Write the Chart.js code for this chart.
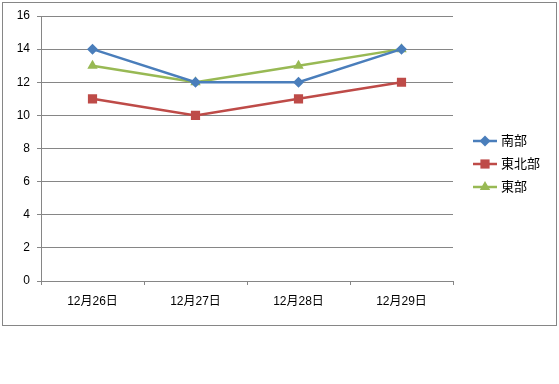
<!DOCTYPE html>
<html>
<head>
<meta charset="utf-8">
<script src="https://cdn.jsdelivr.net/npm/chart.js@4"></script>
<style>
  html, body { margin: 0; padding: 0; background: #fff; }
  #wrap { width: 559px; height: 384px; }
</style>
</head>
<body>
<div id="wrap"><canvas id="chart" width="559" height="384"></canvas></div>
<script>
// ---- data ----
const categories = ['12月26日', '12月27日', '12月28日', '12月29日'];
const seriesNames = ['南部', '東北部', '東部'];
const southValues = [14, 12, 12, 14];
const northeastValues = [11, 10, 11, 12];
const eastValues = [13, 12, 13, 14];
const yTicks = [0, 2, 4, 6, 8, 10, 12, 14, 16];

const colors = ['#4A7EBB', '#BE4B48', '#98B954'];
const markers = ['rectRot', 'rect', 'triangle'];
const markerSizes = [5.5, 6.5, 6];
const gridColor = '#868686';
const fontFamily = '"Liberation Sans", "Noto Sans CJK JP", sans-serif';

// frame around the whole chart, like the Excel chart border
const framePlugin = {
    id: 'frame',
    beforeDraw(chart) {
        const ctx = chart.ctx;
        ctx.save();
        ctx.fillStyle = '#ffffff';
        ctx.fillRect(0, 0, chart.width, chart.height);
        ctx.strokeStyle = gridColor;
        ctx.lineWidth = 1;
        ctx.strokeRect(2.5, 2.5, 554, 323);
        ctx.restore();
    }
};

// legend with a short line and the marker in the middle
const lineLegend = {
    id: 'lineLegend',
    afterDraw(chart) {
        const ctx = chart.ctx;
        const x0 = 473, x1 = 497, yStart = 141, step = 23;
        ctx.save();
        chart.data.datasets.forEach((ds, i) => {
            const y = yStart + i * step;
            ctx.strokeStyle = ds.borderColor;
            ctx.lineWidth = 2.5;
            ctx.beginPath();
            ctx.moveTo(x0, y);
            ctx.lineTo(x1, y);
            ctx.stroke();
            ctx.fillStyle = ds.backgroundColor;
            ctx.strokeStyle = ds.borderColor;
            ctx.lineWidth = 0;
            Chart.helpers.drawPoint(ctx, {
                pointStyle: ds.pointStyle,
                radius: ds.pointRadius,
                rotation: 0,
                borderWidth: 0
            }, (x0 + x1) / 2, y);
            ctx.fillStyle = '#000';
            ctx.font = '13px ' + fontFamily;
            ctx.textBaseline = 'middle';
            ctx.textAlign = 'left';
            ctx.fillText(ds.label, x1 + 4, y);
        });
        ctx.restore();
    }
};

const allValues = [southValues, northeastValues, eastValues];

const ctx = document.getElementById('chart').getContext('2d');
new Chart(ctx, {
    type: 'line',
    data: {
        labels: categories,
        datasets: seriesNames.map((name, i) => ({
            label: name,
            data: allValues[i],
            borderColor: colors[i],
            backgroundColor: colors[i],
            pointStyle: markers[i],
            pointRadius: markerSizes[i],
            pointBorderWidth: 0,
            borderWidth: 2.5,
            tension: 0,
            fill: false
        }))
    },
    options: {
        responsive: false,
        animation: false,
        layout: { padding: { left: 0, top: 16, right: 106, bottom: 0 } },
        plugins: {
            legend: { display: false },
            tooltip: { enabled: false }
        },
        scales: {
            x: {
                offset: true,
                grid: {
                    offset: true,
                    drawOnChartArea: false,
                    drawTicks: true,
                    tickLength: 4,
                    color: gridColor
                },
                border: { color: gridColor, width: 1 },
                ticks: {
                    color: '#000',
                    font: { family: fontFamily, size: 12 },
                    padding: 9,
                    maxRotation: 0
                },
                afterFit(scale) { scale.height = 103; }
            },
            y: {
                min: 0,
                max: 16,
                afterBuildTicks(scale) { scale.ticks = yTicks.map(v => ({ value: v })); },
                grid: {
                    color: gridColor,
                    tickLength: 4
                },
                border: { color: gridColor, width: 1 },
                ticks: {
                    color: '#000',
                    font: { family: fontFamily, size: 12 },
                    padding: 7
                },
                afterFit(scale) { scale.width = 41; }
            }
        }
    },
    plugins: [framePlugin, lineLegend]
});
</script>
</body>
</html>
